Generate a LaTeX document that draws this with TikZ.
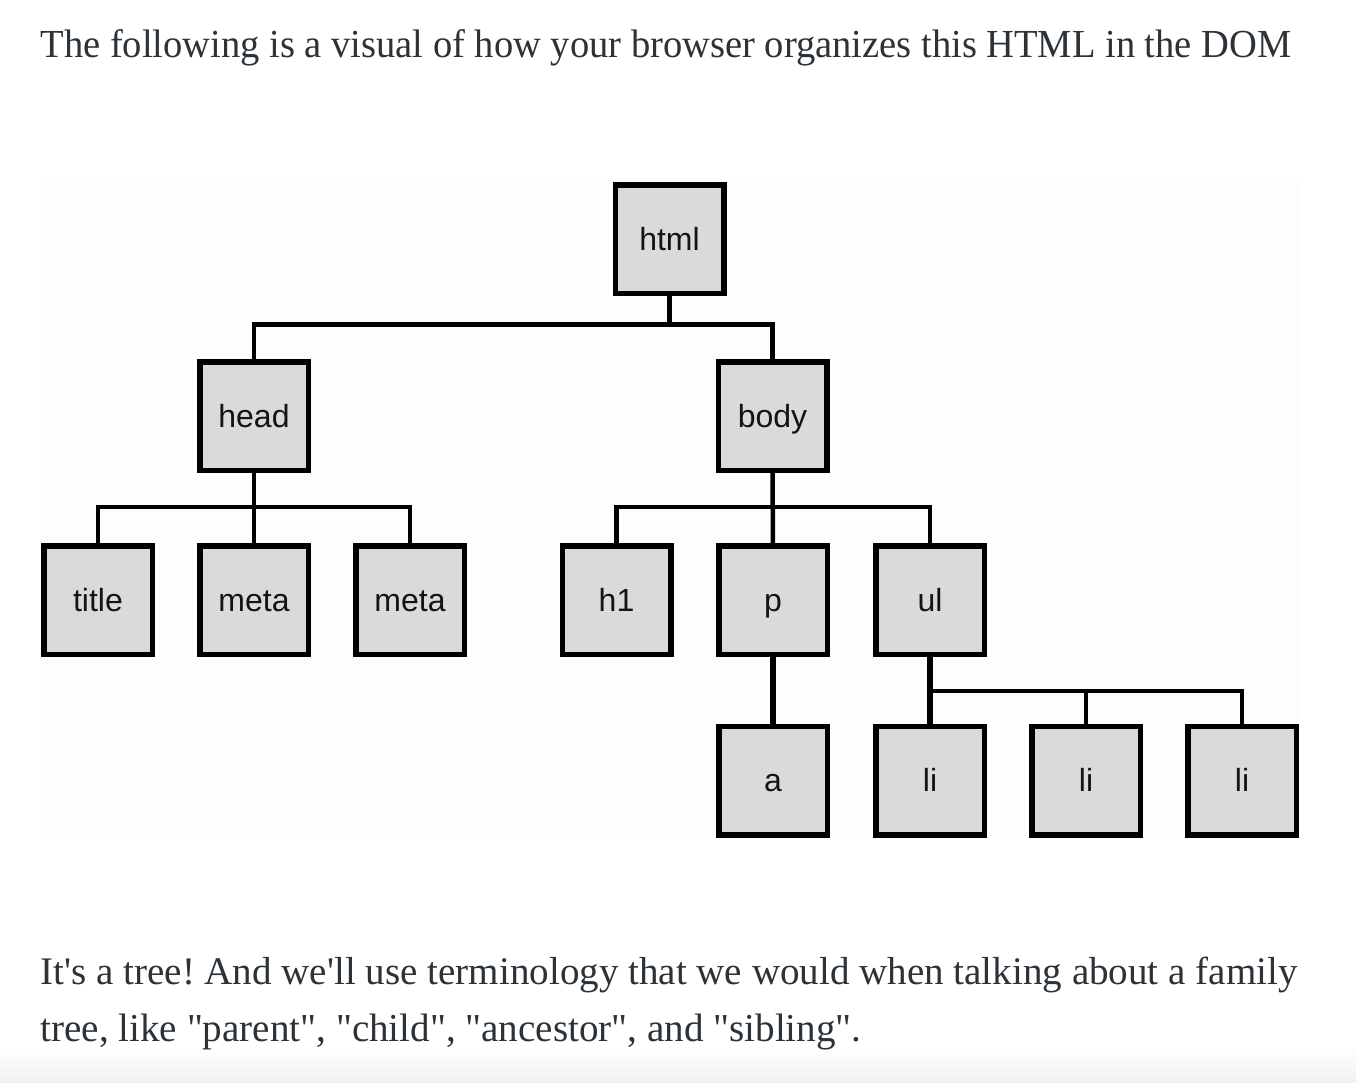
\documentclass[tikz,border=0pt]{standalone}
\usepackage{fontspec}
\usepackage{graphicx}
\newfontfamily\serifx{Liberation Serif}[Ligatures=TeXOff]
\newfontfamily\sansx{Liberation Sans}
\definecolor{txtcol}{HTML}{2B3238}
\definecolor{boxgray}{HTML}{DADADA}
\definecolor{panel}{HTML}{FDFDFD}
\definecolor{bandgray}{HTML}{F1F1F1}
\frenchspacing
\tikzset{
  dombox/.style={draw=black, fill=boxgray, line width=5.5pt,
    minimum width=108.5pt, minimum height=108.5pt, inner sep=0pt, outer sep=0pt,
    font={\sansx\fontsize{32pt}{38pt}\selectfont}, text=black!92,
    text height=22pt, text depth=0pt},
  link/.style={draw=black, line width=4.5pt, line join=miter},
  biglink/.style={draw=black, line width=6.5pt},
  prose/.style={anchor=base west, inner sep=0pt, outer sep=0pt, text=txtcol,
    font={\serifx\fontsize{40pt}{48pt}\selectfont}}
}
\begin{document}
\begin{tikzpicture}[x=1pt,y=-1pt]
\useasboundingbox (0,0) rectangle (1356,1082);
\fill[white] (0,0) rectangle (1356,1082);
\fill[panel] (40,181) rectangle (1300,838);
\shade[top color=white, bottom color=bandgray] (0,1046) rectangle (1356,1082);

% texts
\node[prose] (hdr) at (40.5,57.5) {\resizebox{1251pt}{28pt}{The following is a visual of how your browser organizes this HTML in the DOM}};
\node[prose] (l1) at (40.5,984.5) {\resizebox{1257pt}{27.5pt}{It's a tree! And we'll use terminology that we would when talking about a family}};
\node[prose] (l2) at (40.5,1041.5) {\resizebox{821pt}{27.5pt}{tree, like "parent", "child", "ancestor", and "sibling".}};

% boxes
\node[dombox] (html) at (669.5,239) {html};
\node[dombox] (head) at (254,416) {head};
\node[dombox] (body) at (772.5,416) {body};
\node[dombox] (title) at (98,600) {title};
\node[dombox] (meta1) at (254,600) {meta};
\node[dombox] (meta2) at (410,600) {meta};
\node[dombox] (h1) at (616.5,600) {h1};
\node[dombox] (p) at (773,600) {p};
\node[dombox] (ul) at (930,600) {ul};
\node[dombox] (a) at (773,780.5) {a};
\node[dombox] (li1) at (930,780.5) {li};
\node[dombox] (li2) at (1086,780.5) {li};
\node[dombox] (li3) at (1242,780.5) {li};

% junctions
\coordinate (j1) at (669.5,324.5);
\coordinate (j2) at (254,507);
\coordinate (j3) at (772.5,507);
\coordinate (j4) at (930,691);

% connectors
\draw[link] (html.south) -- (j1);
\draw[link] (head.north) |- (j1) -| (body.north);
\draw[link] (head.south) -- (meta1.north);
\draw[link] (title.north) |- (j2) -| (meta2.north);
\draw[link] (body.south) -- (p.north);
\draw[link] (h1.north) |- (j3) -| (ul.north);
\draw[biglink] (p.south) -- (a.north);
\draw[biglink] (ul.south) -- (li1.north);
\draw[link] (j4) -| (li3.north);
\draw[link] (li2.north) -- (li2.north |- j4);
\end{tikzpicture}
\end{document}
